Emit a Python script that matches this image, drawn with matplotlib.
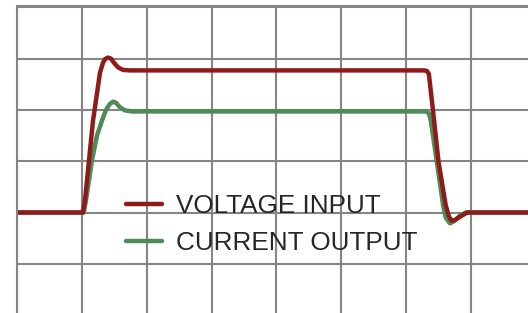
import matplotlib
matplotlib.use("Agg")
import matplotlib.pyplot as plt

# time in grid divisions, amplitude in grid divisions
volt_t = [0.0, 1.015, 1.048, 1.172, 1.28, 1.326, 1.357, 1.403, 1.45, 1.495, 1.557, 1.634, 1.742,
          6.275, 6.32, 6.35, 6.41, 6.5, 6.61, 6.66, 6.7, 6.76, 6.86, 6.94, 7.9]
volt_v = [0.0, 0.0, 0.24, 1.79, 2.73, 2.92, 2.99, 3.02, 3.0, 2.92, 2.83, 2.78, 2.77,
          2.77, 2.76, 2.7, 2.03, 0.98, 0.14, -0.08, -0.16, -0.14, -0.06, 0.0, 0.0]

curr_t = [0.0, 1.03, 1.064, 1.156, 1.233, 1.31, 1.372, 1.434, 1.48, 1.526, 1.588, 1.665, 1.773,
          6.306, 6.35, 6.38, 6.475, 6.57, 6.61, 6.675, 6.74, 6.83, 6.92, 7.9]
curr_v = [0.0, 0.0, 0.24, 1.02, 1.5, 1.79, 2.0, 2.12, 2.16, 2.14, 2.05, 1.99, 1.97,
          1.97, 1.93, 1.79, 0.97, 0.14, -0.1, -0.21, -0.17, -0.06, 0.0, 0.0]

labels = ["VOLTAGE INPUT", "CURRENT OUTPUT"]

plt.rcParams['font.family'] = ['Liberation Sans', 'DejaVu Sans']

W, H = 528, 313
fig = plt.figure(figsize=(W / 100, H / 100), dpi=100)
left = 17 / W
top_px = 6
ax = fig.add_axes([left, 0, 1 - left, (H - top_px) / H])

xmax = (W - 17) / 64.86
ymin = -(H - 212.5) / 51.3
ymax = (212.5 - top_px) / 51.3
ax.set_xlim(0, xmax)
ax.set_ylim(ymin, ymax)

grid_c = '#858585'
ax.set_xticks(range(0, 8))
ax.set_yticks(range(-1, 5))
ax.grid(True, color=grid_c, lw=1.5)
ax.tick_params(length=0, labelbottom=False, labelleft=False)
for s in ['right', 'bottom']:
    ax.spines[s].set_visible(False)
for s in ['left', 'top']:
    ax.spines[s].set_color(grid_c)
    ax.spines[s].set_linewidth(1.5)

red = '#8e1b1b'
green = '#4f8a57'
l2, = ax.plot(curr_t, curr_v, color=green, lw=3.2, solid_joinstyle='round', solid_capstyle='round')
l1, = ax.plot(volt_t, volt_v, color=red, lw=3.2, solid_joinstyle='round', solid_capstyle='round')

leg = ax.legend([l1, l2], labels, loc='center left',
                bbox_to_anchor=(126 / W, 1 - 224.5 / H), bbox_transform=fig.transFigure,
                frameon=False, fontsize=18.8, handlelength=1.38, handletextpad=0.55,
                labelspacing=0.48, borderpad=0, borderaxespad=0)
for t in leg.get_texts():
    t.set_color('#262626')

fig.savefig('out.png', dpi=100)
